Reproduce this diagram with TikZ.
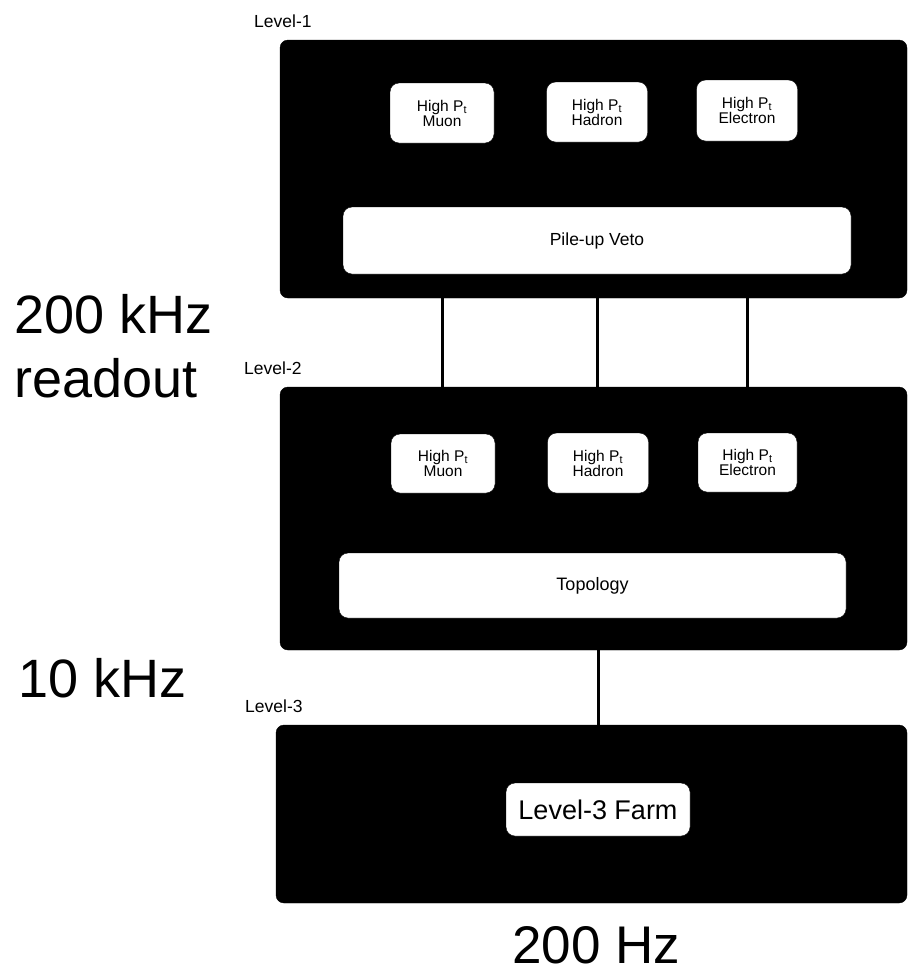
\documentclass[tikz,border=0pt]{standalone}
\usepackage{fontspec}
\setmainfont{Liberation Sans}
\begin{document}
\begin{tikzpicture}[x=1pt,y=-1pt,
  level/.style={draw=black,fill=black,rounded corners=8pt,inner sep=0pt},
  unit/.style={draw=black,fill=white,rounded corners=9pt,inner sep=0pt,align=center,
    font=\fontsize{15.5}{15}\selectfont},
  wide/.style={draw=black,fill=white,rounded corners=9pt,inner sep=0pt,
    font=\fontsize{17.5}{19}\selectfont},
  lvllabel/.style={anchor=west,inner sep=0pt,font=\fontsize{17.5}{19}\selectfont},
  rate/.style={anchor=base west,inner sep=0pt,font=\fontsize{54}{60}\selectfont},
  link/.style={line width=3pt}]
\useasboundingbox (0,0) rectangle (908,975);
% level boxes
\node[level,minimum width=627pt,minimum height=258pt] (L1) at (593.5,169) {};
\node[level,minimum width=627pt,minimum height=263pt] (L2) at (593.5,518.5) {};
\node[level,minimum width=631pt,minimum height=178pt] (L3) at (591.5,814) {};
% level labels
\node[lvllabel] (t1) at (254,21) {Level-1};
\node[lvllabel] (t2) at (244,368) {Level-2};
\node[lvllabel] (t3) at (245,706) {Level-3};
% Level-1 units
\node[unit,minimum width=104pt,minimum height=60pt] (mu1) at (442,113) {High P\textsubscript{t}\\Muon};
\node[unit,minimum width=101pt,minimum height=60pt] (ha1) at (597,112) {High P\textsubscript{t}\\Hadron};
\node[unit,minimum width=101pt,minimum height=61pt] (el1) at (747,110.5) {High P\textsubscript{t}\\Electron};
\node[wide,minimum width=508pt,minimum height=67pt] (pv) at (597,240.5) {Pile-up Veto};
% Level-2 units
\node[unit,minimum width=104pt,minimum height=59pt] (mu2) at (443,463.5) {High P\textsubscript{t}\\Muon};
\node[unit,minimum width=101pt,minimum height=60pt] (ha2) at (598,463) {High P\textsubscript{t}\\Hadron};
\node[unit,minimum width=99pt,minimum height=59pt] (el2) at (747.5,462.5) {High P\textsubscript{t}\\Electron};
\node[wide,minimum width=507pt,minimum height=65pt,font=\fontsize{18}{20}\selectfont] (topo) at (592.5,585.5) {Topology};
% Level-3 unit
\node[wide,minimum width=184pt,minimum height=53pt,font=\fontsize{27}{29}\selectfont] (farm) at (598,809.5) {Level-3 Farm};
% connectors
\draw[link] (mu1 |- L1.south) -- (mu1 |- L2.north);
\draw[link] (ha1 |- L1.south) -- (ha1 |- L2.north);
\draw[link] (el1 |- L1.south) -- (el1 |- L2.north);
\draw[link] (ha2 |- L2.south) -- (ha2 |- L3.north);
% rates
\node[rate] (r1) at (14,333) {200 kHz};
\node[rate] (r2) at (14,397) {readout};
\node[rate] (r3) at (18,697) {10 kHz};
\node[rate,font=\fontsize{53}{60}\selectfont] (r4) at (512,963) {200 Hz};
\end{tikzpicture}
\end{document}
